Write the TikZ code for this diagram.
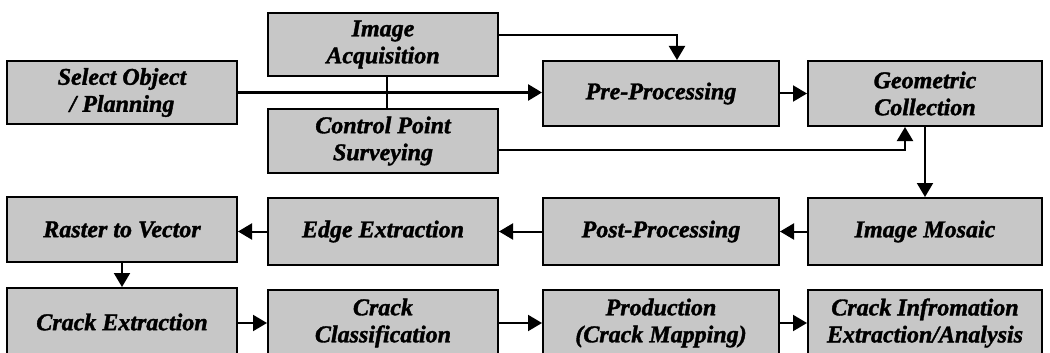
\documentclass[tikz,border=0pt]{standalone}
\usepackage{fontspec}
\setmainfont{Liberation Serif}[BoldItalicFeatures={FakeBold=1.5}]
\usetikzlibrary{arrows.meta}
\begin{document}
\begin{tikzpicture}[x=1pt,y=-1pt,
  blk/.style={draw=black, line width=2pt, fill=black!22, inner sep=0pt,
    align=center, font=\fontsize{24}{27}\selectfont\bfseries\itshape},
  conn/.style={line width=2pt, -{Triangle[length=14pt,width=16pt]}},
  plain/.style={line width=2pt}]
\useasboundingbox (0,0) rectangle (1050,353);
\node[blk, minimum width=230pt, minimum height=63pt] (sel) at (122,92.5) {Select Object\\/ Planning};
\node[blk, minimum width=230pt, minimum height=63pt] (acq) at (383,44.5) {Image\\Acquisition};
\node[blk, minimum width=230pt, minimum height=64pt] (cps) at (383,141) {Control Point\\Surveying};
\node[blk, minimum width=236pt, minimum height=65pt] (pre) at (661,93.5) {Pre-Processing};
\node[blk, minimum width=234pt, minimum height=65pt] (geo) at (925,93.5) {Geometric\\Collection};
\node[blk, minimum width=230pt, minimum height=65pt] (ras) at (122,229.5) {Raster to Vector};
\node[blk, minimum width=230pt, minimum height=67pt] (edge) at (383,231.5) {Edge Extraction};
\node[blk, minimum width=236pt, minimum height=67pt] (post) at (661,231.5) {Post-Processing};
\node[blk, minimum width=234pt, minimum height=67pt] (mos) at (925,231.5) {Image Mosaic};
\node[blk, minimum width=230pt, minimum height=68pt] (ce) at (122,322) {Crack Extraction};
\node[blk, minimum width=230pt, minimum height=66pt] (cc) at (383,323) {Crack\\Classification};
\node[blk, minimum width=236pt, minimum height=66pt] (prod) at (661,323) {Production\\(Crack Mapping)};
\node[blk, minimum width=234pt, minimum height=66pt] (info) at (925,323) {Crack Infromation\\Extraction/Analysis};
% connectors
\draw[plain] ([xshift=4pt]acq.south) -- ([xshift=4pt]cps.north);
\draw[conn, line width=2.6pt] (sel.east) -- (sel.east -| pre.west);
\draw[conn] ([yshift=9.5pt]acq.east) -| ([xshift=16pt]pre.north);
\draw[conn] ([yshift=-9pt]cps.east) -| ([xshift=-20pt]geo.south);
\draw[conn] (pre.east) -- (geo.west);
\draw[conn] (geo.south) -- (mos.north);
\draw[conn] (mos.west) -- (post.east);
\draw[conn] (post.west) -- (edge.east);
\draw[conn] (edge.west) -- (edge.west -| ras.east);
\draw[conn] (ras.south) -- (ce.north);
\draw[conn] (ce.east |- cc.center) -- (cc.west);
\draw[conn] (cc.east) -- (prod.west);
\draw[conn] (prod.east) -- (info.west);
\end{tikzpicture}
\end{document}
